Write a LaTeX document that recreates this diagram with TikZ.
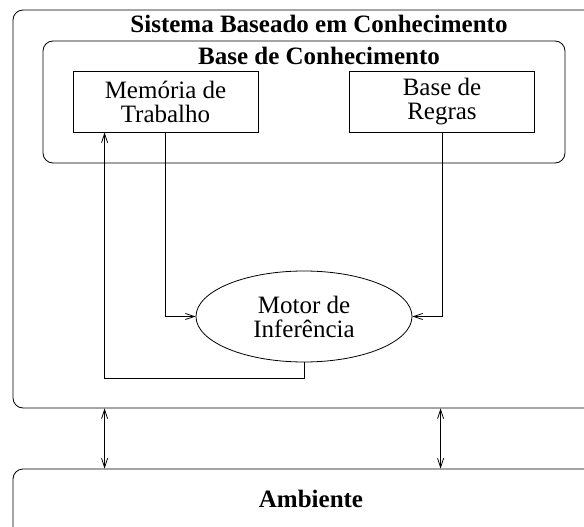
\documentclass[tikz,border=0pt]{standalone}
\usepackage{fontspec}
\setmainfont{Liberation Serif}
\usetikzlibrary{shapes.geometric, arrows.meta, positioning}

\newcommand{\letra}{\fontsize{25}{24}\selectfont}

\tikzset{
 caixa/.style = {draw, line width=0.8pt, rounded corners=10pt},
 bloco/.style = {draw, line width=0.8pt, minimum width=185pt, minimum height=61pt, align=center},
 motor/.style = {draw, ellipse, line width=0.8pt, minimum width=216pt, minimum height=91pt, align=center},
 titulo/.style = {font=\letra\bfseries},
 liga/.style = {line width=0.8pt}
}

\begin{document}
\begin{tikzpicture}[x=1pt, y=-1pt, font=\letra,
 >={Straight Barb[length=9pt, width=6pt]}]
\useasboundingbox (0,0) rectangle (584,527);
\clip (0,0) rectangle (584,527);

% caixas
\node[caixa, minimum width=612pt, minimum height=398pt] (sbc) at (319,209) {};
\node[caixa, minimum width=522pt, minimum height=122pt] (bc) at (304,102) {};
\node[caixa, minimum width=612pt, minimum height=92pt] (amb) at (319,515) {};

\node[titulo] (tsbc) at (319,24) {Sistema Baseado em Conhecimento};
\node[titulo] (tbc) at (319,56) {Base de Conhecimento};
\node[titulo] (tamb) at (311,499) {Ambiente};

% componentes
\node[bloco] (mem) at (165.5,101.5) {Memória de\\Trabalho};
\node[bloco] (reg) at (442,101.5) {Base de\\Regras};
\node[motor] (mi) at (304,316.5) {Motor de\\Inferência};

% ligacoes
\draw[liga, ->] (mem.south) |- (mi.west);
\draw[liga, ->] (reg.south) |- (mi.east);
\draw[liga, ->] (mi.south) -- ++(0,16) -| ([xshift=32pt]mem.south west);

\foreach \dx in {92,428} {
 \draw[liga, <->] ([xshift=\dx pt]sbc.south west) -- ([xshift=\dx pt]amb.north west);
}

\end{tikzpicture}
\end{document}
